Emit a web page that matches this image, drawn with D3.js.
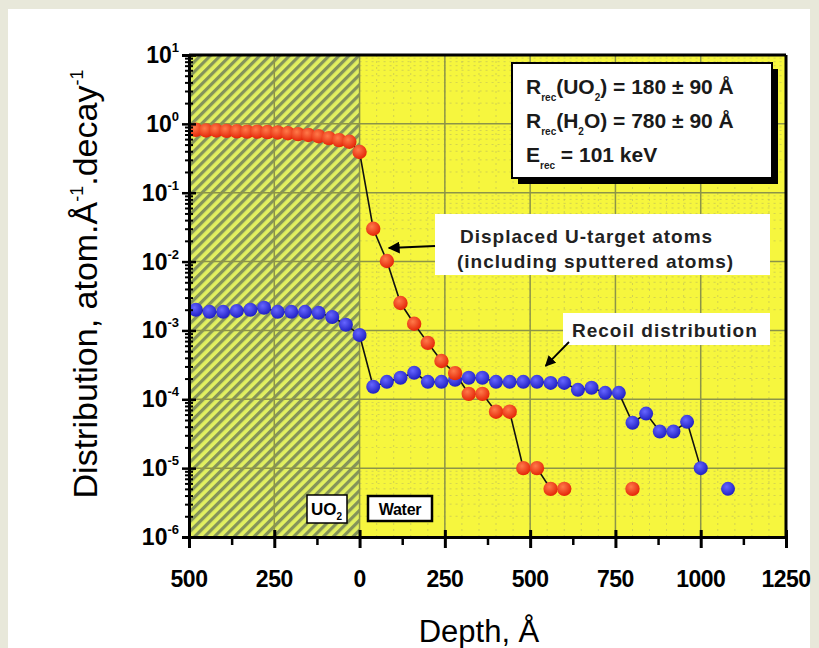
<!DOCTYPE html>
<html>
<head>
<meta charset="utf-8">
<script src="https://cdn.jsdelivr.net/npm/d3@7"></script>
<style>
    body { margin: 0; background: #e8e8da; }
    svg { display: block; }
    text { font-family: Arial, "Liberation Sans", sans-serif; }
</style>
</head>
<body>
<div id="chart"></div>
<script>
    // displaced U-target atoms (red)
    var redDepth = [-480,-450,-420,-390,-360,-330,-300,-270,-240,-210,-180,-150,-120,-90,-60,-30,0,
                    40,80,120,160,200,240,280,320,360,400,440,480,520,560,600,640,680,720,760,800];
    var redValue = [0.82,0.80,0.80,0.79,0.78,0.77,0.77,0.76,0.75,0.73,0.71,0.69,0.66,0.62,0.58,0.55,0.39,
                    0.030,0.0102,0.0025,0.00125,0.00066,0.00036,0.00024,0.00012,0.00012,0.000066,0.000066,
                    0.00001,0.00001,0.000005,0.000005,null,null,null,null,0.000005];

    // recoil distribution (blue)
    var blueDepth = [-480,-440,-400,-360,-320,-280,-240,-200,-160,-120,-80,-40,0,
                     40,80,120,160,200,240,280,320,360,400,440,480,520,560,600,640,680,720,760,
                     800,840,880,920,960,1000,1040,1080];
    var blueValue = [0.0020,0.00186,0.00186,0.00192,0.0020,0.00213,0.00186,0.00186,0.00186,0.0018,0.00157,0.00121,0.00086,
                     0.000152,0.000179,0.000205,0.000243,0.000179,0.000179,0.000192,0.000205,0.000205,0.000179,0.000179,
                     0.000179,0.000179,0.000173,0.000173,0.000137,0.000147,0.000124,0.000124,
                     0.0000456,0.000062,0.000034,0.000034,0.000047,0.00001,null,0.000005];

    var xTicks = [-500,-250,0,250,500,750,1000,1250];
    var xMinorTicks = [-375,-125,125,375,625,875,1125];
    var yExponents = [1,0,-1,-2,-3,-4,-5,-6];

    var infoLines = [
        {main: "R", sub: "rec", rest: ["(UO", "2", ") = 180 \u00b1 90 \u00c5"]},
        {main: "R", sub: "rec", rest: ["(H", "2", "O) = 780 \u00b1 90 \u00c5"]},
        {main: "E", sub: "rec", rest: [" = 101 keV"]}
    ];

    var margin = {top: 55, right: 33, bottom: 111, left: 189},
        width = 819 - margin.left - margin.right,
        height = 648 - margin.top - margin.bottom;

    var x = d3.scaleLinear().domain([-500, 1250]).range([0, width]);
    var y = d3.scaleLog().domain([1e-6, 10]).range([height, 0]);

    var root = d3.select("#chart").append("svg")
        .attr("width", 819)
        .attr("height", 648);

    root.append("rect")
        .attr("x", 8).attr("y", 9)
        .attr("width", 802).attr("height", 639)
        .attr("fill", "#ffffff");

    var defs = root.append("defs");

    var hatch = defs.append("pattern")
        .attr("id", "hatch")
        .attr("patternUnits", "userSpaceOnUse")
        .attr("width", 7).attr("height", 7)
        .attr("patternTransform", "rotate(45)");
    hatch.append("rect").attr("width", 7).attr("height", 7).attr("fill", "#e2f060");
    hatch.append("rect").attr("width", 3.2).attr("height", 7).attr("fill", "#84935a");

    function ball(id, light, dark) {
        var g = defs.append("radialGradient")
            .attr("id", id)
            .attr("cx", "40%").attr("cy", "35%").attr("r", "65%");
        g.append("stop").attr("offset", "0%").attr("stop-color", light);
        g.append("stop").attr("offset", "100%").attr("stop-color", dark);
    }
    ball("redBall", "#ff7a4a", "#e42608");
    ball("blueBall", "#6666ff", "#2020c4");

    var svg = root.append("g")
        .attr("transform", "translate(" + margin.left + "," + margin.top + ")");

    // backgrounds
    svg.append("rect")
        .attr("x", x(0)).attr("y", 0)
        .attr("width", x(1250) - x(0)).attr("height", height)
        .attr("fill", "#f6f63e");
    svg.append("rect")
        .attr("x", 0).attr("y", 0)
        .attr("width", x(0)).attr("height", height)
        .attr("fill", "url(#hatch)");

    // faint dashed minor grid in water region
    var minorY = [];
    yExponents.forEach(function(e) {
        if (e === 1) return;
        for (var m = 2; m <= 9; m++) minorY.push(m * Math.pow(10, e));
    });
    var minorX = d3.range(50, 1250, 50);

    svg.append("g").selectAll("line")
        .data(minorY)
        .enter().append("line")
        .attr("x1", x(0)).attr("x2", width)
        .attr("y1", function(d) { return y(d); })
        .attr("y2", function(d) { return y(d); })
        .attr("stroke", "#a4a468")
        .attr("stroke-width", 0.8)
        .attr("stroke-dasharray", "2,4")
        .attr("opacity", 0.55);

    svg.append("g").selectAll("line")
        .data(minorX)
        .enter().append("line")
        .attr("x1", function(d) { return x(d); })
        .attr("x2", function(d) { return x(d); })
        .attr("y1", 0).attr("y2", height)
        .attr("stroke", "#a4a468")
        .attr("stroke-width", 0.8)
        .attr("stroke-dasharray", "2,4")
        .attr("opacity", 0.55);

    // major grid
    svg.append("g").selectAll("line")
        .data(yExponents.slice(1, -1))
        .enter().append("line")
        .attr("x1", 0).attr("x2", width)
        .attr("y1", function(e) { return y(Math.pow(10, e)); })
        .attr("y2", function(e) { return y(Math.pow(10, e)); })
        .attr("stroke", "#8c9448")
        .attr("stroke-width", 1.5);

    svg.append("g").selectAll("line")
        .data(xTicks.slice(1, -1))
        .enter().append("line")
        .attr("x1", function(d) { return x(d); })
        .attr("x2", function(d) { return x(d); })
        .attr("y1", 0).attr("y2", height)
        .attr("stroke", "#8c9448")
        .attr("stroke-width", 1.5);

    // lines
    var redData = redDepth.map(function(d, i) { return {depth: d, value: redValue[i]}; });
    var blueData = blueDepth.map(function(d, i) { return {depth: d, value: blueValue[i]}; });

    var line = d3.line()
        .defined(function(d) { return d.value != null; })
        .x(function(d) { return x(d.depth); })
        .y(function(d) { return y(d.value); });

    [redData, blueData].forEach(function(data) {
        svg.append("path")
            .datum(data)
            .attr("fill", "none")
            .attr("stroke", "#111")
            .attr("stroke-width", 1.6)
            .attr("d", line);
    });

    svg.append("g").selectAll("circle")
        .data(blueData.filter(function(d) { return d.value != null; }))
        .enter().append("circle")
        .attr("cx", function(d) { return x(d.depth); })
        .attr("cy", function(d) { return y(d.value); })
        .attr("r", 7)
        .attr("fill", "url(#blueBall)");

    svg.append("g").selectAll("circle")
        .data(redData.filter(function(d) { return d.value != null; }))
        .enter().append("circle")
        .attr("cx", function(d) { return x(d.depth); })
        .attr("cy", function(d) { return y(d.value); })
        .attr("r", 7.2)
        .attr("fill", "url(#redBall)");

    // axes
    var yMajor = yExponents.map(function(e) { return Math.pow(10, e); });
    var yAxis = svg.append("g")
        .call(d3.axisLeft(y).tickValues(yMajor).tickSize(7).tickFormat(""));
    yAxis.selectAll(".tick line").attr("x1", 7).attr("stroke-width", 2.5);
    yAxis.select(".domain").attr("stroke-width", 3);

    var yMinor = svg.append("g")
        .call(d3.axisLeft(y).tickValues(minorY).tickSize(4).tickFormat(""));
    yMinor.selectAll(".tick line").attr("x1", 4).attr("stroke-width", 2);
    yMinor.select(".domain").remove();

    var xAxis = svg.append("g")
        .attr("transform", "translate(0," + height + ")")
        .call(d3.axisBottom(x).tickValues(xTicks).tickSize(11).tickFormat(""));
    xAxis.selectAll(".tick line").attr("y1", -7).attr("stroke-width", 3);
    xAxis.select(".domain").attr("stroke-width", 3);

    var xMinor = svg.append("g")
        .attr("transform", "translate(0," + height + ")")
        .call(d3.axisBottom(x).tickValues(xMinorTicks).tickSize(8).tickFormat(""));
    xMinor.selectAll(".tick line").attr("stroke-width", 2.5);
    xMinor.select(".domain").remove();

    svg.append("line")
        .attr("x1", 0).attr("x2", width).attr("y1", 0).attr("y2", 0)
        .attr("stroke", "#000").attr("stroke-width", 3);
    svg.append("line")
        .attr("x1", width).attr("x2", width).attr("y1", 0).attr("y2", height)
        .attr("stroke", "#000").attr("stroke-width", 3);

    // tick labels
    svg.append("g").selectAll("text")
        .data(xTicks)
        .enter().append("text")
        .attr("x", function(d) { return x(d); })
        .attr("y", height + 50)
        .attr("text-anchor", "middle")
        .attr("font-size", 23)
        .attr("font-weight", "bold")
        .attr("letter-spacing", -0.5)
        .text(function(d) { return Math.abs(d); });

    var yLab = svg.append("g").selectAll("text")
        .data(yExponents)
        .enter().append("text")
        .attr("x", -10)
        .attr("y", function(e) { return y(Math.pow(10, e)) + 8; })
        .attr("text-anchor", "end")
        .attr("font-size", 23)
        .attr("font-weight", "bold");
    yLab.append("tspan").text("10");
    yLab.append("tspan")
        .attr("dy", -11)
        .attr("font-size", 13)
        .text(function(e) { return e; });

    // axis titles
    root.append("text")
        .attr("x", margin.left + x(350))
        .attr("y", 642)
        .attr("text-anchor", "middle")
        .attr("font-size", 31)
        .text("Depth, \u00c5");

    var yt = root.append("text")
        .attr("transform", "translate(97," + (margin.top + height / 2 - 12) + ") rotate(-90)")
        .attr("text-anchor", "middle")
        .attr("font-size", 34);
    yt.append("tspan").text("Distribution, atom.\u00c5");
    yt.append("tspan").attr("dy", -14).attr("font-size", 18).text("-1");
    yt.append("tspan").attr("dy", 14).text(".decay");
    yt.append("tspan").attr("dy", -14).attr("font-size", 18).text("-1");

    // info box
    var info = svg.append("g").attr("transform", "translate(323,8)");
    info.append("rect")
        .attr("x", 6).attr("y", 6).attr("width", 260).attr("height", 115)
        .attr("fill", "#000");
    info.append("rect")
        .attr("width", 260).attr("height", 115)
        .attr("fill", "#fff").attr("stroke", "#000").attr("stroke-width", 2);
    infoLines.forEach(function(l, i) {
        var t = info.append("text")
            .attr("x", 14)
            .attr("y", 31 + i * 34)
            .attr("font-size", 21)
            .attr("font-weight", "bold")
            .attr("fill", "#1a1a1a");
        t.append("tspan").text(l.main);
        t.append("tspan").attr("dy", 7).attr("font-size", 10).text(l.sub);
        if (l.rest.length === 3) {
            t.append("tspan").attr("dy", -7).text(l.rest[0]);
            t.append("tspan").attr("dy", 7).attr("font-size", 10).text(l.rest[1]);
            t.append("tspan").attr("dy", -7).text(l.rest[2]);
        } else {
            t.append("tspan").attr("dy", -7).text(l.rest[0]);
        }
    });

    // arrow marker
    defs.append("marker")
        .attr("id", "arrow")
        .attr("viewBox", "0 0 10 10")
        .attr("refX", 9).attr("refY", 5)
        .attr("markerWidth", 6).attr("markerHeight", 6)
        .attr("orient", "auto")
        .append("path")
        .attr("d", "M0,0L10,5L0,10z")
        .attr("fill", "#000");

    // displaced atoms label
    svg.append("rect")
        .attr("x", 246).attr("y", 159).attr("width", 335).attr("height", 61)
        .attr("fill", "#fff");
    svg.append("text")
        .attr("x", 271).attr("y", 188)
        .attr("font-size", 19).attr("font-weight", "bold")
        .attr("letter-spacing", 1).attr("fill", "#222")
        .text("Displaced U-target atoms");
    svg.append("text")
        .attr("x", 268).attr("y", 213)
        .attr("font-size", 19).attr("font-weight", "bold")
        .attr("letter-spacing", 1).attr("fill", "#222")
        .text("(including sputtered atoms)");
    svg.append("line")
        .attr("x1", 246).attr("y1", 191)
        .attr("x2", x(80) + 2).attr("y2", y(0.0102) - 13)
        .attr("stroke", "#000").attr("stroke-width", 2)
        .attr("marker-end", "url(#arrow)");

    // recoil label
    svg.append("rect")
        .attr("x", 374).attr("y", 258).attr("width", 207).attr("height", 32)
        .attr("fill", "#fff");
    svg.append("text")
        .attr("x", 383).attr("y", 282)
        .attr("font-size", 19).attr("font-weight", "bold")
        .attr("letter-spacing", 1).attr("fill", "#222")
        .text("Recoil distribution");
    svg.append("line")
        .attr("x1", 380).attr("y1", 287)
        .attr("x2", x(560) - 5).attr("y2", y(0.000173) - 17)
        .attr("stroke", "#000").attr("stroke-width", 1.8)
        .attr("marker-end", "url(#arrow)");

    // region labels
    var uo2 = svg.append("g").attr("transform", "translate(118,440)");
    uo2.append("rect").attr("width", 40).attr("height", 28)
        .attr("fill", "#fff").attr("stroke", "#000").attr("stroke-width", 1.5);
    var ut = uo2.append("text").attr("x", 4).attr("y", 20)
        .attr("font-size", 17).attr("font-weight", "bold");
    ut.append("tspan").text("UO");
    ut.append("tspan").attr("dy", 5).attr("font-size", 10).text("2");

    var water = svg.append("g").attr("transform", "translate(179,441)");
    water.append("rect").attr("width", 64).attr("height", 25)
        .attr("fill", "#fff").attr("stroke", "#000").attr("stroke-width", 2.5);
    water.append("text").attr("x", 32).attr("y", 19)
        .attr("text-anchor", "middle")
        .attr("font-size", 16).attr("font-weight", "bold")
        .attr("letter-spacing", -0.3)
        .text("Water");
</script>
</body>
</html>
